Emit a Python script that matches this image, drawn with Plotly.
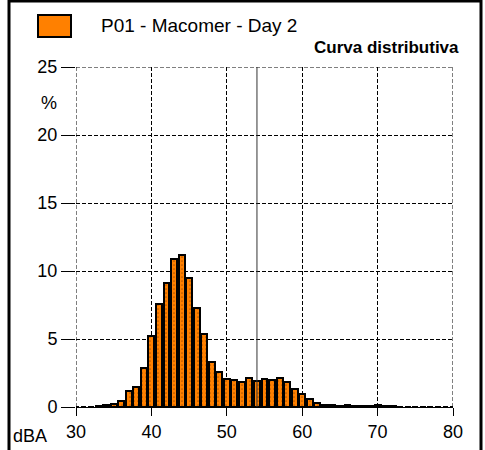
import plotly.graph_objects as go

# distribution curve, 1 dB classes
dba = list(range(30, 81))
percent = [0.02, 0.02, 0.03, 0.05, 0.12, 0.2, 0.45, 1.15, 1.47, 2.9,
           5.2, 7.6, 9.1, 10.85, 11.2, 9.5, 7.3, 5.4, 3.3, 2.55,
           2.08, 2.0, 1.86, 2.1, 1.9, 2.03, 2.0, 2.13, 1.86, 1.32,
           0.93, 0.59, 0.29, 0.17, 0.12, 0.1, 0.12, 0.07, 0.07, 0.1,
           0.12, 0.1, 0.05, 0.03, 0.02, 0.02, 0.01, 0.01, 0.01, 0.01, 0.0]
series_name = "P01 - Macomer - Day 2"
marker_x = 54

W, H = 485, 450
L, R, T, B = 76, 32, 67, 43

def px_x(p):
    return (p - L) / (W - L - R)

def px_y(p):
    return (H - B - p) / (H - T - B)

fig = go.Figure()
fig.add_trace(go.Bar(
    x=dba, y=percent, name=series_name, width=0.78,
    marker=dict(color="#FF8000", line=dict(color="black", width=2),
                pattern=dict(shape=".", fgcolor="#6a3000", size=4, solidity=0.15)),
    showlegend=False,
))

font = dict(family="Liberation Sans, Arial", size=18, color="black")
dash = "4px,2px"

fig.update_layout(
    width=W, height=H,
    margin=dict(l=L, r=R, t=T, b=B),
    paper_bgcolor="white", plot_bgcolor="white",
    font=font, bargap=0,
    xaxis=dict(range=[30, 80], tickvals=[30, 40, 50, 60, 70, 80], automargin=False,
               showgrid=True, gridcolor="black", griddash=dash, gridwidth=1,
               showline=True, linecolor="black", linewidth=1,
               ticks="outside", ticklen=8, tickcolor="black", zeroline=False),
    yaxis=dict(range=[0, 25], tickvals=[0, 5, 10, 15, 20, 25], automargin=False,
               showgrid=True, gridcolor="black", griddash=dash, gridwidth=1,
               showline=False, ticks="outside", ticklen=14, tickcolor="black",
               zeroline=False),
)

# dashed plot border
for x0, y0, x1, y1 in [(30, 0, 30, 25), (80, 0, 80, 25), (30, 25, 80, 25)]:
    fig.add_shape(type="line", x0=x0, y0=y0, x1=x1, y1=y1,
                  line=dict(color="black", width=1, dash=dash))

# marker line
fig.add_shape(type="line", x0=marker_x, x1=marker_x, y0=0, y1=25,
              line=dict(color="#333333", width=1), layer="above")

# outer frame
fig.add_shape(type="rect", xref="paper", yref="paper",
              x0=px_x(9), x1=px_x(481), y0=px_y(458), y1=px_y(1),
              line=dict(color="black", width=3))

# legend swatch
fig.add_shape(type="rect", xref="paper", yref="paper",
              x0=px_x(38), x1=px_x(71), y0=px_y(37), y1=px_y(15),
              fillcolor="#FF8000", line=dict(color="black", width=2))

fig.add_annotation(xref="paper", yref="paper", x=px_x(99), y=px_y(26),
                   text=series_name, showarrow=False, xanchor="left", yanchor="middle",
                   font=dict(family="Liberation Sans, Arial", size=19))
fig.add_annotation(xref="paper", yref="paper", x=px_x(461), y=px_y(48),
                   text="<b>Curva distributiva</b>", showarrow=False,
                   xanchor="right", yanchor="middle",
                   font=dict(family="Liberation Sans, Arial", size=17))
fig.add_annotation(xref="paper", yref="paper", x=px_x(49), y=px_y(103),
                   text="%", showarrow=False, xanchor="center", yanchor="middle",
                   font=font)
fig.add_annotation(xref="paper", yref="paper", x=px_x(30), y=px_y(436),
                   text="dBA", showarrow=False, xanchor="center", yanchor="middle",
                   font=font)

fig.write_html("out.html", config={"displayModeBar": False},
               post_script="document.body.style.margin='0';")
